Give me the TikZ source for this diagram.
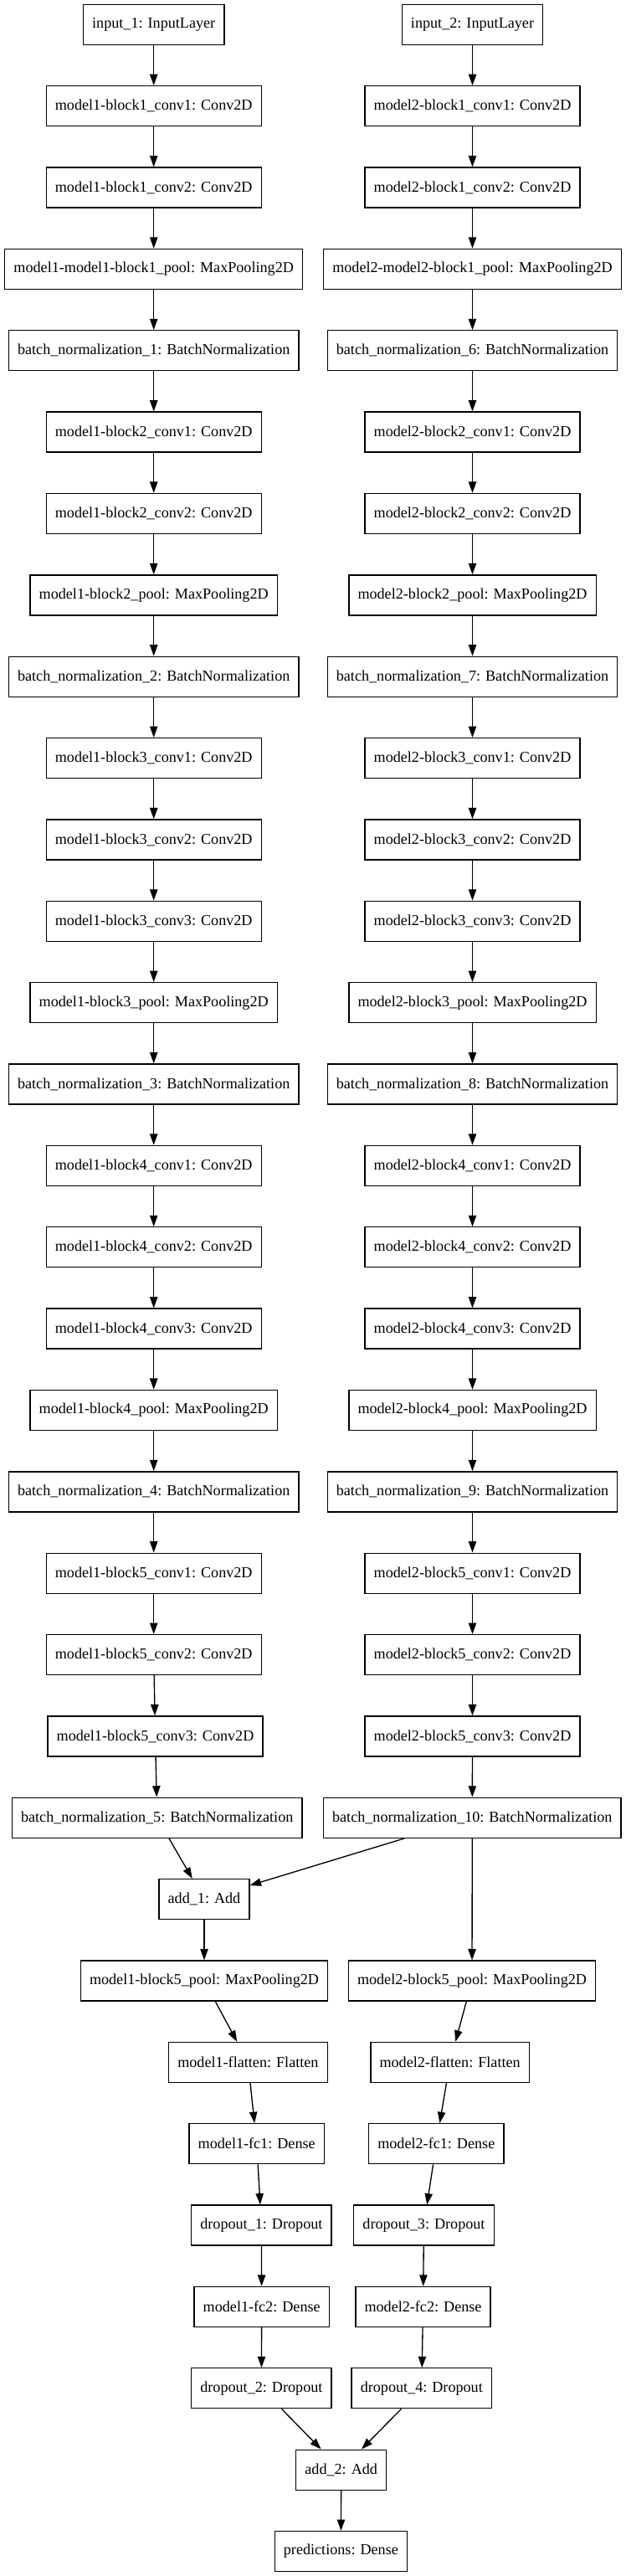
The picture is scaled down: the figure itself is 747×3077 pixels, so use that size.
\documentclass[tikz,border=0pt]{standalone}
\usepackage{fontspec}
\setmainfont{Liberation Serif}
\usetikzlibrary{arrows.meta}

\newcommand{\layerfirst}{29.33}
\newcommand{\layerpitch}{97.36}

\begin{document}
\begin{tikzpicture}[x=0.75pt, y=-0.75pt,
        layer/.style={draw, line width=1pt, inner xsep=8pt, inner ysep=0pt,
            minimum height=36pt, font=\fontsize{13.6}{16}\selectfont},
        link/.style={line width=1pt, -{Triangle[length=10pt,width=7pt]}}]
        \useasboundingbox (0,0) rectangle (747,3077);

        % Both branches, rows 0 to 20
        \foreach \lbl/\rbl [count=\i from 0] in {input\_1: InputLayer/input\_2: InputLayer,
            model1-block1\_conv1: Conv2D/model2-block1\_conv1: Conv2D,
            model1-block1\_conv2: Conv2D/model2-block1\_conv2: Conv2D,
            model1-model1-block1\_pool: MaxPooling2D/model2-model2-block1\_pool: MaxPooling2D,
            batch\_normalization\_1: BatchNormalization/batch\_normalization\_6: BatchNormalization,
            model1-block2\_conv1: Conv2D/model2-block2\_conv1: Conv2D,
            model1-block2\_conv2: Conv2D/model2-block2\_conv2: Conv2D,
            model1-block2\_pool: MaxPooling2D/model2-block2\_pool: MaxPooling2D,
            batch\_normalization\_2: BatchNormalization/batch\_normalization\_7: BatchNormalization,
            model1-block3\_conv1: Conv2D/model2-block3\_conv1: Conv2D,
            model1-block3\_conv2: Conv2D/model2-block3\_conv2: Conv2D,
            model1-block3\_conv3: Conv2D/model2-block3\_conv3: Conv2D,
            model1-block3\_pool: MaxPooling2D/model2-block3\_pool: MaxPooling2D,
            batch\_normalization\_3: BatchNormalization/batch\_normalization\_8: BatchNormalization,
            model1-block4\_conv1: Conv2D/model2-block4\_conv1: Conv2D,
            model1-block4\_conv2: Conv2D/model2-block4\_conv2: Conv2D,
            model1-block4\_conv3: Conv2D/model2-block4\_conv3: Conv2D,
            model1-block4\_pool: MaxPooling2D/model2-block4\_pool: MaxPooling2D,
            batch\_normalization\_4: BatchNormalization/batch\_normalization\_9: BatchNormalization,
            model1-block5\_conv1: Conv2D/model2-block5\_conv1: Conv2D,
            model1-block5\_conv2: Conv2D/model2-block5\_conv2: Conv2D} {
            \node[layer] (one\i) at (183.7, {\layerfirst+\layerpitch*\i}) {\lbl};
            \node[layer] (two\i) at (564.5, {\layerfirst+\layerpitch*\i}) {\rbl};
        }

        % Last conv and normalization
        \node[layer] (one21) at (185.5, {\layerfirst+\layerpitch*21}) {model1-block5\_conv3: Conv2D};
        \node[layer] (two21) at (564.5, {\layerfirst+\layerpitch*21}) {model2-block5\_conv3: Conv2D};
        \node[layer] (one22) at (187.7, {\layerfirst+\layerpitch*22}) {batch\_normalization\_5: BatchNormalization};
        \node[layer] (two22) at (564.3, {\layerfirst+\layerpitch*22}) {batch\_normalization\_10: BatchNormalization};

        % Merge and heads
        \node[layer] (add1) at (244, {\layerfirst+\layerpitch*23}) {add\_1: Add};
        \node[layer] (pool1) at (244, {\layerfirst+\layerpitch*24}) {model1-block5\_pool: MaxPooling2D};
        \node[layer] (pool2) at (564, {\layerfirst+\layerpitch*24}) {model2-block5\_pool: MaxPooling2D};
        \node[layer] (flat1) at (296.4, {\layerfirst+\layerpitch*25}) {model1-flatten: Flatten};
        \node[layer] (flat2) at (537.6, {\layerfirst+\layerpitch*25}) {model2-flatten: Flatten};
        \node[layer] (fcone1) at (306.7, {\layerfirst+\layerpitch*26}) {model1-fc1: Dense};
        \node[layer] (fcone2) at (521.3, {\layerfirst+\layerpitch*26}) {model2-fc1: Dense};
        \node[layer] (drop1) at (312.4, {\layerfirst+\layerpitch*27}) {dropout\_1: Dropout};
        \node[layer] (drop3) at (506.5, {\layerfirst+\layerpitch*27}) {dropout\_3: Dropout};
        \node[layer] (fctwo1) at (312.7, {\layerfirst+\layerpitch*28}) {model1-fc2: Dense};
        \node[layer] (fctwo2) at (505.5, {\layerfirst+\layerpitch*28}) {model2-fc2: Dense};
        \node[layer] (drop2) at (312.4, {\layerfirst+\layerpitch*29}) {dropout\_2: Dropout};
        \node[layer] (drop4) at (503.8, {\layerfirst+\layerpitch*29}) {dropout\_4: Dropout};
        \node[layer] (add2) at (407.7, {\layerfirst+\layerpitch*30}) {add\_2: Add};
        \node[layer] (pred) at (407.4, {\layerfirst+\layerpitch*31}) {predictions: Dense};

        % Arrows down the branches
        \foreach \i [remember=\i as \p (initially 0)] in {1,...,22} {
            \draw[link] (one\p) -- (one\i);
            \draw[link] (two\p) -- (two\i);
        }

        % Arrows below
        \draw[link] (one22) -- (add1);
        \draw[link] (two22) -- (add1);
        \draw[link] (add1) -- (pool1);
        \draw[link] (two22) -- (pool2);
        \draw[link] (pool1) -- (flat1);
        \draw[link] (pool2) -- (flat2);
        \draw[link] (flat1) -- (fcone1);
        \draw[link] (flat2) -- (fcone2);
        \draw[link] (fcone1) -- (drop1);
        \draw[link] (fcone2) -- (drop3);
        \draw[link] (drop1) -- (fctwo1);
        \draw[link] (drop3) -- (fctwo2);
        \draw[link] (fctwo1) -- (drop2);
        \draw[link] (fctwo2) -- (drop4);
        \draw[link] (drop2) -- (add2);
        \draw[link] (drop4) -- (add2);
        \draw[link] (add2) -- (pred);
    \end{tikzpicture}
\end{document}
